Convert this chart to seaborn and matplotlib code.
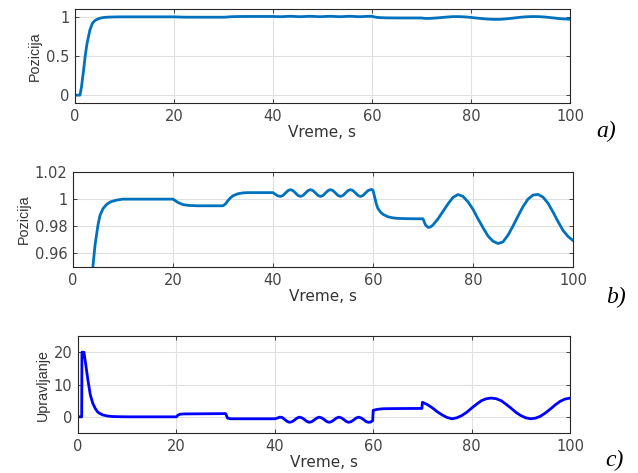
import matplotlib
matplotlib.use("Agg")
import pandas as pd
import seaborn as sns
import matplotlib.pyplot as plt
from matplotlib.ticker import FuncFormatter

# position response (same signal shown in panels a and b)
vreme_poz = [0, 1.0, 1.3, 1.7, 2.0, 2.4, 3.0, 3.5, 4.0, 4.4, 5.0, 5.4, 6.0, 6.7, 7.5, 8.7, 10,
             20, 21, 22, 23, 25, 30, 30.5, 31, 31.5, 32, 33, 34, 35, 40,
             40.5, 41, 41.5, 42, 42.5, 43, 43.5, 44, 44.5, 45, 45.5, 46, 46.5, 47, 47.5,
             48, 48.5, 49, 49.5, 50, 50.5, 51, 51.5, 52, 52.5, 53, 53.5, 54, 54.5, 55, 55.5,
             56, 56.5, 57, 57.5, 58, 58.5, 59, 59.7, 60.0, 60.3, 60.7, 61, 61.5, 62, 63, 64, 65, 67, 70,
             70.5, 71, 71.5, 72, 73, 74, 75, 76, 77, 78, 79, 80, 81, 82, 83, 84, 85, 86, 87, 88,
             89, 90, 91, 92, 93, 94, 95, 96, 97, 98, 99, 100]
pozicija = [0, 0, 0.1, 0.3, 0.47, 0.65, 0.83, 0.915, 0.951, 0.966, 0.981, 0.988, 0.993, 0.996, 0.998, 0.9993, 1.0,
            1.0, 0.9975, 0.996, 0.9954, 0.9951, 0.9951, 0.9965, 0.999, 1.001, 1.0025, 1.004, 1.0046, 1.0048, 1.0048,
            1.0035, 1.0024, 1.002, 1.0027, 1.0045, 1.0063, 1.007, 1.0063, 1.0045, 1.0027, 1.002, 1.0027, 1.0045, 1.0063, 1.007,
            1.0063, 1.0045, 1.0027, 1.002, 1.0027, 1.0045, 1.0063, 1.007, 1.0063, 1.0045, 1.0027, 1.002, 1.0027, 1.0045, 1.0063, 1.007,
            1.0063, 1.0045, 1.0027, 1.002, 1.0027, 1.0045, 1.0063, 1.0072, 1.0065, 1.002, 0.996, 0.993, 0.9905, 0.9888, 0.987, 0.9862, 0.9858, 0.9856, 0.9855,
            0.981, 0.9792, 0.9795, 0.981, 0.9855, 0.991, 0.9965, 1.0013, 1.0034, 1.002, 0.998, 0.9925, 0.9855, 0.979, 0.9728, 0.969, 0.9673, 0.9685, 0.9735, 0.9802,
            0.9875, 0.9945, 1.0, 1.003, 1.0035, 1.0015, 0.997, 0.9905, 0.9835, 0.977, 0.9725, 0.9695]

# control signal (panel c)
vreme_upr = [0, 0.75, 0.8, 1.2, 1.5, 2.0, 2.5, 3.0, 3.5, 4.0, 4.5, 5.0, 6.0, 7.0, 8.0, 10,
             20, 20.3, 20.7, 21.5, 30, 30.4, 31, 40,
             40.5, 41, 41.5, 42, 42.5, 43, 43.5, 44, 44.5, 45, 45.5, 46, 46.5, 47, 47.5,
             48, 48.5, 49, 49.5, 50, 50.5, 51, 51.5, 52, 52.5, 53, 53.5, 54, 54.5, 55, 55.5,
             56, 56.5, 57, 57.5, 58, 58.5, 59, 59.5, 59.9, 60.0, 60.5, 61, 62, 64, 69.9,
             70, 71, 72, 73, 74, 75, 76, 77, 78, 79, 80, 81, 82, 83, 84, 85, 86, 87, 88,
             89, 90, 91, 92, 93, 94, 95, 96, 97, 98, 99, 100]
upravljanje = [0, 0, 20, 20, 17, 11.5, 6.8, 4.2, 2.6, 1.5, 1.0, 0.6, 0.25, 0.1, 0.05, 0,
               0, 0.5, 0.8, 0.9, 1.0, -0.4, -0.6, -0.6,
               -0.4, -0.1, -0.2, -0.8, -1.4, -1.7, -1.5, -1.0, -0.4, -0.1, -0.3, -0.8, -1.4, -1.7, -1.5,
               -1.0, -0.4, -0.1, -0.3, -0.8, -1.4, -1.7, -1.5, -1.0, -0.4, -0.1, -0.3, -0.8, -1.4, -1.7, -1.5,
               -1.0, -0.4, -0.1, -0.3, -0.8, -1.4, -1.7, -1.6, -1.2, 2.0, 2.2, 2.35, 2.5, 2.55, 2.6,
               4.5, 3.8, 2.8, 1.6, 0.6, -0.2, -0.6, -0.3, 0.4, 1.4, 2.7, 3.9, 5.0, 5.6, 5.8, 5.6, 5.0, 3.9, 2.7,
               1.4, 0.4, -0.3, -0.6, -0.4, 0.2, 1.2, 2.4, 3.7, 4.8, 5.5, 5.8]

df_poz = pd.DataFrame({"t": vreme_poz, "y": pozicija})
df_upr = pd.DataFrame({"t": vreme_upr, "y": upravljanje})

sns.set_theme(style="whitegrid")
plt.rcParams['font.family'] = ['DejaVu Sans']

W, H = 638, 473
fig = plt.figure(figsize=(W / 100, H / 100), dpi=100)
fig.patch.set_facecolor("white")


def box(l, r, t, b):
    return [l / W, 1 - b / H, (r - l) / W, (b - t) / H]


def style(ax, ylabel, yticks, ylim):
    ax.set_xlim(0, 100)
    ax.set_ylim(ylim)
    ax.set_xticks(range(0, 101, 20))
    ax.set_yticks(yticks)
    ax.yaxis.set_major_formatter(FuncFormatter(lambda v, p: f"{v:g}"))
    ax.set_xlabel("Vreme, s", fontsize=11, color="#333333", labelpad=1)
    ax.set_ylabel(ylabel, fontsize=10.3, color="#333333", labelpad=3,
                  fontfamily="Liberation Sans")
    ax.set_facecolor("white")
    ax.grid(True, color="#e0e0e0", lw=0.8)
    for s in ax.spines.values():
        s.set_visible(True)
        s.set_color("#262626")
        s.set_linewidth(0.8)
    ax.tick_params(direction="in", length=3, width=0.6, top=True, right=True, bottom=True, left=True,
                   colors="#262626", labelcolor="#444444", labelsize=10.5, pad=4)


ax1 = fig.add_axes(box(75, 570, 9, 103))
sns.lineplot(data=df_poz, x="t", y="y", ax=ax1, color="#0072BD", lw=2, estimator=None, sort=False)
style(ax1, "Pozicija", [0, 0.5, 1], (-0.1, 1.1))

ax2 = fig.add_axes(box(73, 573, 172, 267))
sns.lineplot(data=df_poz, x="t", y="y", ax=ax2, color="#0072BD", lw=2, estimator=None, sort=False)
style(ax2, "Pozicija", [0.96, 0.98, 1, 1.02], (0.95, 1.02))

ax3 = fig.add_axes(box(78, 570, 336, 433))
sns.lineplot(data=df_upr, x="t", y="y", ax=ax3, color="#0000FF", lw=2, estimator=None, sort=False)
style(ax3, "Upravljanje", [0, 10, 20], (-5, 25))

for lab, x, y in [("a)", 596, 131), ("b)", 606, 297), ("c)", 605, 460)]:
    fig.text(x / W, 1 - y / H, lab, fontfamily="Liberation Serif", style="italic",
             fontsize=17, ha="left", va="center", color="black")

fig.savefig("out.png", dpi=100, facecolor="white")
